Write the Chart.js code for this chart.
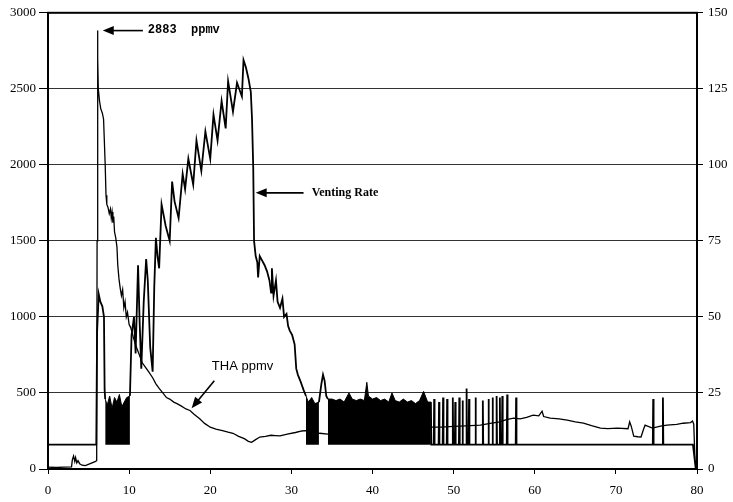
<!DOCTYPE html>
<html>
<head>
<meta charset="utf-8">
<script src="https://cdn.jsdelivr.net/npm/chart.js@4.4.0/dist/chart.umd.min.js"></script>
<style>
  html, body { margin: 0; padding: 0; background: #fff; }
</style>
</head>
<body>
<canvas id="chart" width="733" height="502"></canvas>
<script>
// THA concentration, ppmv (left axis) - [hours, ppmv]
const thaPpmv = [
  [0,12],[1,10],[2,12],[2.9,14],[3.0,60],[3.15,85],[3.3,50],[3.4,75],[3.55,40],[3.7,55],[3.9,35],
  [4.2,25],[4.6,22],[5.2,35],[5.8,48],[6.0,55],[6.05,1500],[6.1,2883],[6.15,2700],[6.2,2500],
  [6.35,2420],[6.5,2370],[6.7,2340],[6.85,2300],[6.95,2150],[7.05,2000],[7.15,1800],[7.25,1740],
  [7.4,1720],[7.55,1680],[7.7,1710],[7.8,1650],[7.9,1690],[8.0,1620],[8.1,1660],[8.2,1560],
  [8.35,1520],[8.5,1460],[8.6,1340],[8.75,1250],[8.9,1190],[9.05,1140],[9.2,1180],[9.35,1060],
  [9.5,1100],[9.65,1000],[9.8,1030],[10.0,950],[10.2,930],[10.5,870],[10.9,800],[11.2,760],
  [11.6,700],[12.0,670],[12.4,640],[12.9,600],[13.3,560],[13.7,530],[14.2,497],[14.6,470],
  [15.0,460],[15.5,440],[15.9,430],[16.4,415],[17.0,395],[17.5,385],[18.0,360],[18.7,330],
  [19.3,300],[20.0,275],[20.7,262],[21.5,252],[22.2,242],[22.8,235],[23.5,215],[24.2,200],
  [24.7,182],[25.1,175],[25.5,190],[26.1,210],[26.8,215],[27.5,222],[28.0,220],[28.6,218],
  [29.5,230],[30.5,240],[31.3,250],[31.7,252],[32.5,245],[33.5,235],[34.5,230],[36,235],
  [38,245],[40,255],[42,262],[44,268],[47.1,275],[48.5,275],[50,280],[51.5,283],[53.3,288],
  [54.5,300],[55.7,310],[56.5,325],[57.4,334],[58.2,330],[59,340],[59.8,354],[60.5,350],
  [60.9,380],[61.1,345],[61.9,334],[63,330],[64,321],[65,310],[66,301],[67,285],[68.1,269],
  [69,265],[70.2,269],[71.5,265],[71.7,310],[71.9,280],[72.2,216],[72.7,212],[73.1,210],
  [73.4,260],[73.6,288],[74.5,269],[75.5,282],[76.3,288],[77.5,293],[78.3,301],[79.2,305],
  [79.45,315],[79.6,295],[79.75,60],[80,0]
];

// Venting rate (right axis) - main trace, gaps where the on/off bursts are
const ventRate = [
  [0,8],[5.95,8],[6.05,45],[6.25,57.5],[6.45,55],[6.7,53.5],[6.9,50],[6.98,26],[7.05,23],
  [7.1,null],
  [10.1,24],[10.3,44],[10.6,50],[10.8,38],[11.1,67],[11.3,48],[11.5,33],[11.8,55],[12.1,69],
  [12.3,62],[12.6,40],[12.9,32],[13.1,60],[13.3,76],[13.5,70],[13.7,66],[14.0,87],[14.5,80],
  [15.0,75],[15.3,94.5],[15.6,88],[16.1,82.5],[16.6,97],[16.9,92],[17.3,102],[17.9,93.5],
  [18.3,108],[18.9,98],[19.4,111],[20.0,102],[20.4,116.5],[20.9,108],[21.4,121],[21.9,112],
  [22.2,127.5],[22.8,117.5],[23.3,127],[23.9,122.5],[24.1,134.5],[24.4,132],[24.7,128.5],
  [25.0,124],[25.15,115],[25.3,99],[25.4,75],[25.6,70],[25.8,68],[25.9,63],[26.1,70],
  [26.4,68.5],[26.7,67],[27.0,65],[27.3,62],[27.5,58],[27.6,66],[27.8,57],[28.1,62],[28.3,55],
  [28.6,53],[28.9,56],[29.1,50],[29.4,51],[29.6,47],[29.8,45.5],[30.1,44],[30.4,41],[30.6,33],
  [30.8,31],[31.1,29],[31.5,26],[31.8,24],
  [32.0,null],
  [33.4,22],[33.7,28],[33.9,31],[34.1,29],[34.3,24],[34.5,23],
  [34.6,null],
  [47.2,22],[47.25,8],[47.55,8],[47.6,23],[47.65,8],[48.15,8],[48.2,22],[48.25,8],[48.65,8],
  [48.7,23.5],[48.75,8],[49.15,8],[49.2,23],[49.25,8],[49.85,8],[49.9,23.5],[49.95,8],[50.15,8],
  [50.2,22],[50.25,8],[50.65,8],[50.7,23.5],[50.75,8],[51.05,8],[51.1,22.5],[51.15,8],[51.55,8],
  [51.6,26.5],[51.65,8],[51.85,8],[51.9,23],[51.95,8],[52.65,8],[52.7,23.5],[52.75,8],[53.55,8],
  [53.6,22.5],[53.65,8],[54.25,8],[54.3,23],[54.35,8],[54.75,8],[54.8,23.5],[54.85,8],[55.25,8],
  [55.3,24],[55.35,8],[55.65,8],[55.7,23.5],[55.75,8],[55.95,8],[56.0,24],[56.05,8],[56.55,8],
  [56.6,24.5],[56.65,8],[57.65,8],[57.7,23.5],[57.75,8],[74.55,8],[74.6,23],[74.65,8],[75.75,8],
  [75.8,23.5],[75.85,8],[79.5,8],[79.85,0]
];

// Rapid on/off bursts - upper envelope, the band is filled down to the 8 floor
const ventBurst1 = [
  [7.05,23],[7.3,21],[7.6,24],[7.9,20],[8.2,23.5],[8.5,22],[8.8,24.5],[9.1,20.5],[9.4,22],
  [9.7,23.5],[10.1,24]
];
const ventBurst2 = [
  [31.8,24],[32.1,22],[32.5,23.5],[32.9,21.5],[33.4,22]
];
const ventBurst3 = [
  [34.5,23],[35,23],[35.5,22.5],[36,23],[36.5,22],[37.1,25],[37.5,23],[38,22.5],[38.5,23],
  [39.0,22.5],[39.3,28.5],[39.5,24],[40,23],[40.5,23.5],[41,22.5],[41.5,23],[42,22],[42.4,25],
  [42.8,22.5],[43.3,22],[43.8,23],[44.3,22],[44.8,22.5],[45.3,21.5],[45.8,22.5],[46.3,25.5],
  [46.8,22],[47.2,22]
];

const ventFloor = 8;

const serif = "'Liberation Serif', 'Times New Roman', serif";

function burst(data) {
  return {
    data: data,
    yAxisID: 'y1',
    borderColor: '#000',
    backgroundColor: '#000',
    borderWidth: 1,
    fill: { value: ventFloor },
    pointRadius: 0,
    tension: 0,
    order: 1
  };
}

function arrow(ctx, x1, y1, x2, y2) {
  // line from (x1,y1) to arrow tip (x2,y2)
  const ang = Math.atan2(y2 - y1, x2 - x1);
  const len = 11, half = 4.5;
  ctx.beginPath();
  ctx.moveTo(x1, y1);
  ctx.lineTo(x2 - Math.cos(ang) * len * 0.8, y2 - Math.sin(ang) * len * 0.8);
  ctx.lineWidth = 1.6;
  ctx.stroke();
  ctx.beginPath();
  ctx.moveTo(x2, y2);
  ctx.lineTo(x2 - Math.cos(ang) * len + Math.sin(ang) * half, y2 - Math.sin(ang) * len - Math.cos(ang) * half);
  ctx.lineTo(x2 - Math.cos(ang) * len - Math.sin(ang) * half, y2 - Math.sin(ang) * len + Math.cos(ang) * half);
  ctx.closePath();
  ctx.fill();
}

const notes = {
  id: 'notes',
  afterDatasetsDraw(chart) {
    const { ctx, chartArea: a, scales: { x, y } } = chart;
    ctx.save();
    ctx.strokeStyle = '#000';
    ctx.fillStyle = '#000';
    // frame
    ctx.lineWidth = 2;
    ctx.strokeRect(a.left, a.top, a.right - a.left, a.bottom - a.top);

    ctx.textBaseline = 'middle';
    ctx.textAlign = 'left';

    // 2883 ppmv
    arrow(ctx, x.getPixelForValue(11.7), y.getPixelForValue(2883), x.getPixelForValue(6.75), y.getPixelForValue(2883));
    ctx.font = "bold 12px 'Liberation Mono', 'DejaVu Sans Mono', monospace";
    ctx.fillText('2883  ppmv', x.getPixelForValue(12.3), y.getPixelForValue(2890));

    // Venting Rate
    arrow(ctx, x.getPixelForValue(31.5), y.getPixelForValue(1816), x.getPixelForValue(25.6), y.getPixelForValue(1816));
    ctx.font = "bold 12px " + serif;
    ctx.fillText('Venting Rate', x.getPixelForValue(32.5), y.getPixelForValue(1816));

    // THA ppmv
    arrow(ctx, x.getPixelForValue(20.5), y.getPixelForValue(580), x.getPixelForValue(17.7), y.getPixelForValue(400));
    ctx.font = "13px 'Liberation Sans', Arial, sans-serif";
    ctx.fillText('THA ppmv', x.getPixelForValue(20.2), y.getPixelForValue(672));
    ctx.restore();
  }
};

const plain = v => String(v);

new Chart(document.getElementById('chart'), {
  type: 'line',
  data: {
    datasets: [
      {
        label: 'THA ppmv',
        data: thaPpmv,
        yAxisID: 'y',
        borderColor: '#000',
        borderWidth: 1.3,
        pointRadius: 0,
        tension: 0,
        fill: false,
        order: 3
      },
      {
        label: 'Venting Rate',
        data: ventRate,
        yAxisID: 'y1',
        borderColor: '#000',
        borderWidth: 1.8,
        pointRadius: 0,
        tension: 0,
        fill: false,
        spanGaps: false,
        order: 2
      },
      burst(ventBurst1),
      burst(ventBurst2),
      burst(ventBurst3)
    ]
  },
  options: {
    responsive: false,
    animation: false,
    devicePixelRatio: 1,
    layout: { padding: { top: 11, left: 0, right: 0, bottom: 0 } },
    plugins: {
      legend: { display: false },
      tooltip: { enabled: false }
    },
    scales: {
      x: {
        type: 'linear',
        min: 0,
        max: 80,
        ticks: { stepSize: 10, color: '#000', font: { family: serif, size: 13 }, padding: 9, callback: plain },
        grid: { drawOnChartArea: false, color: '#000', tickLength: 5, tickWidth: 1 },
        border: { color: '#000', width: 2 },
        afterFit(s) { s.height = 33; }
      },
      y: {
        position: 'left',
        min: 0,
        max: 3000,
        ticks: { stepSize: 500, color: '#000', font: { family: serif, size: 13 }, padding: 3, callback: plain },
        grid: { color: '#333', lineWidth: 1, tickLength: 9, tickColor: '#000' },
        border: { color: '#000', width: 2 },
        afterFit(s) { s.width = 48; }
      },
      y1: {
        position: 'right',
        min: 0,
        max: 150,
        ticks: { stepSize: 25, color: '#000', font: { family: serif, size: 13 }, padding: 5, callback: plain },
        grid: { drawOnChartArea: false, color: '#000', tickLength: 6 },
        border: { color: '#000', width: 2 },
        afterFit(s) { s.width = 36; }
      }
    }
  },
  plugins: [notes]
});
</script>
</body>
</html>
